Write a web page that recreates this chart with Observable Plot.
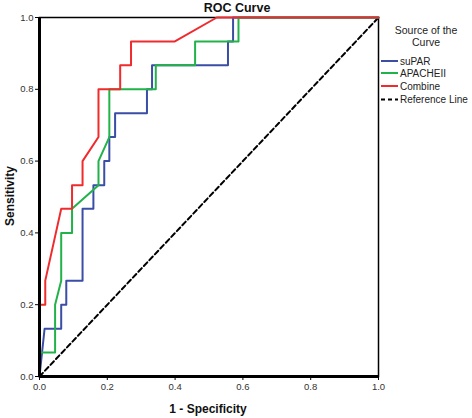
<!DOCTYPE html>
<html>
<head>
<meta charset="utf-8">
<script src="https://cdn.jsdelivr.net/npm/d3@7"></script>
<script src="https://cdn.jsdelivr.net/npm/@observablehq/plot@0.6"></script>
<style>
  html, body { margin: 0; padding: 0; background: #fff; }
  #chart { position: relative; width: 472px; height: 418px; }
  svg { font-family: "Liberation Sans", Arial, sans-serif; }
</style>
</head>
<body>
<div id="chart"></div>
<script>
// ---- data ----
const seriesNames = ["suPAR", "APACHEII", "Combine"];
const seriesColors = ["#3a4ea6", "#22b24a", "#ef2b2d"];

const suparX = [0, 0.015, 0.064, 0.064, 0.079, 0.079, 0.127, 0.127, 0.159, 0.159, 0.191, 0.191, 0.206, 0.206, 0.223, 0.223, 0.317, 0.317, 0.332, 0.332, 0.556, 0.556, 0.571, 0.571, 1];
const suparY = [0, 0.133, 0.133, 0.2, 0.2, 0.267, 0.267, 0.467, 0.467, 0.533, 0.533, 0.6, 0.6, 0.667, 0.667, 0.733, 0.733, 0.8, 0.8, 0.867, 0.867, 0.933, 0.933, 1, 1];

const apacheX = [0, 0, 0.046, 0.046, 0.064, 0.064, 0.096, 0.096, 0.174, 0.174, 0.206, 0.206, 0.343, 0.343, 0.459, 0.459, 0.587, 0.587, 1];
const apacheY = [0, 0.067, 0.067, 0.2, 0.267, 0.4, 0.4, 0.467, 0.533, 0.6, 0.667, 0.8, 0.8, 0.867, 0.867, 0.933, 0.933, 1, 1];

const combineX = [0, 0, 0.017, 0.017, 0.064, 0.096, 0.096, 0.127, 0.127, 0.174, 0.174, 0.238, 0.238, 0.27, 0.27, 0.398, 0.523, 1];
const combineY = [0, 0.2, 0.2, 0.267, 0.467, 0.467, 0.533, 0.533, 0.6, 0.667, 0.8, 0.8, 0.867, 0.867, 0.933, 0.933, 1, 1];

const refX = [0, 1];
const refY = [0, 1];

const tickValues = [0, 0.2, 0.4, 0.6, 0.8, 1.0];
const chartTitle = "ROC Curve";
const xTitle = "1 - Specificity";
const yTitle = "Sensitivity";
const legendTitle = ["Source of the", "Curve"];
const refLabel = "Reference Line";

// ---- build ----
const toRows = (xs, ys, name) => xs.map((x, i) => ({x, y: ys[i], name}));
const rows = [
  ...toRows(suparX, suparY, seriesNames[0]),
  ...toRows(apacheX, apacheY, seriesNames[1]),
  ...toRows(combineX, combineY, seriesNames[2])
];
const refRows = toRows(refX, refY, refLabel);

const plot = Plot.plot({
  width: 472,
  height: 418,
  marginLeft: 39,
  marginRight: 94,
  marginTop: 17,
  marginBottom: 42,
  style: {fontFamily: "'Liberation Sans', Arial, sans-serif", fontSize: "9.5px", color: "#333", background: "#fff"},
  x: {domain: [0, 1]},
  y: {domain: [0, 1]},
  color: {domain: seriesNames, range: seriesColors},
  marks: [
    Plot.frame({stroke: "#000", strokeWidth: 1.5}),
    Plot.line(refRows, {x: "x", y: "y", stroke: "#000", strokeWidth: 2, strokeDasharray: "5,3"}),
    Plot.line(rows, {x: "x", y: "y", z: "name", stroke: "name", strokeWidth: 2, curve: "linear"}),
    Plot.ruleX([0], {stroke: "#000", strokeWidth: 3}),
    Plot.ruleY([0], {stroke: "#000", strokeWidth: 3}),
    Plot.axisX({ticks: tickValues, tickFormat: d3.format(".1f"), tickSize: 4, tickPadding: 3, label: null, stroke: "#000", fill: "#333"}),
    Plot.axisY({ticks: tickValues, tickFormat: d3.format(".1f"), tickSize: 4, tickPadding: 2, label: null, stroke: "#000", fill: "#333"})
  ]
});

document.getElementById("chart").appendChild(plot);

const svg = d3.select(plot);
const font = "'Liberation Sans', Arial, sans-serif";

// titles
svg.append("text").attr("x", 237).attr("y", 12).attr("text-anchor", "middle")
  .attr("font-family", font).attr("font-weight", "bold").attr("font-size", "12.5px").attr("fill", "#111")
  .text(chartTitle);
svg.append("text").attr("x", 208).attr("y", 413).attr("text-anchor", "middle")
  .attr("font-family", font).attr("font-weight", "bold").attr("font-size", "12px").attr("fill", "#111")
  .text(xTitle);
svg.append("text").attr("transform", "translate(14,196) rotate(-90)").attr("text-anchor", "middle")
  .attr("font-family", font).attr("font-weight", "bold").attr("font-size", "12px").attr("fill", "#111")
  .text(yTitle);

// legend
const lg = svg.append("g").attr("font-family", font).attr("font-size", "10px").attr("fill", "#222");
lg.append("text").attr("x", 426).attr("y", 34).attr("text-anchor", "middle").attr("font-size", "10.5px").text(legendTitle[0]);
lg.append("text").attr("x", 426).attr("y", 46).attr("text-anchor", "middle").attr("font-size", "10.5px").text(legendTitle[1]);
const items = seriesNames.map((n, i) => ({label: n, color: seriesColors[i], dash: null}))
  .concat([{label: refLabel, color: "#000", dash: "4,3"}]);
const itemY = [61, 73, 86, 99.5];
items.forEach((it, i) => {
  lg.append("line").attr("x1", 381).attr("x2", 398).attr("y1", itemY[i]).attr("y2", itemY[i])
    .attr("stroke", it.color).attr("stroke-width", 2).attr("stroke-dasharray", it.dash);
  lg.append("text").attr("x", 400).attr("y", itemY[i] + 3.5).attr("text-anchor", "start").text(it.label);
});
</script>
</body>
</html>
